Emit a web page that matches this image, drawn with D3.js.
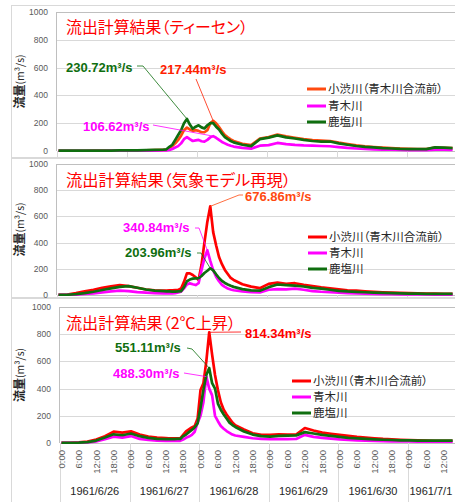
<!DOCTYPE html>
<html>
<head>
<meta charset="utf-8">
<script src="https://cdn.jsdelivr.net/npm/d3@7"></script>
<style>
  body { margin: 0; background: #fff; }
  svg { display: block; }
  .jp { font-family: "Noto Sans CJK JP", sans-serif; font-feature-settings: "palt"; }
  .num { font-family: "Liberation Sans", Arial, sans-serif; }
</style>
</head>
<body>
<svg id="chart" width="455" height="502"></svg>
<script>
// hours since 1961/6/26 0:00 (3-hourly, hourly around the peak)
const hours = [0,3,6,9,12,15,18,21,24,27,30,33,36,
  37,38,39,40,41,42,43,44,45,46,47,48,49,50,51,52,53,54,55,56,57,58,59,60,
  63,66,69,72,75,78,81,84,87,90,93,96,99,102,105,108,111,114,117,120,123,126,129,132,135];

const seriesNames = ["小渋川（青木川合流前）", "青木川", "鹿塩川"];
const titles = ["流出計算結果（ティーセン）", "流出計算結果（気象モデル再現）", "流出計算結果（2℃上昇）"];
const dayLabels = ["1961/6/26", "1961/6/27", "1961/6/28", "1961/6/29", "1961/6/30", "1961/7/1"];
const yTicks = [0, 200, 400, 600, 800, 1000];

// ティーセン
const thiessenKoshibu = [1,1,1,1,2,2,2,3,3,4,5,6,8,
  8,20,35,55,80,110,150,168,155,145,150,145,135,135,150,200,217,200,172,142,115,98,84,72,
  52,42,90,100,118,105,95,85,78,75,72,60,50,40,33,28,24,20,17,15,14,14,25,23,20];
const thiessenAoki = [1,1,1,1,1,1,2,2,2,2,3,3,4,
  4,8,15,25,35,55,85,100,85,72,76,80,70,68,80,98,107,95,80,65,55,45,38,32,
  22,17,38,42,58,50,44,40,38,36,34,28,22,18,15,12,10,9,8,7,7,6,10,9,8];
const thiessenKashio = [2,2,2,2,3,3,3,4,4,5,6,8,10,
  12,30,45,80,115,150,200,231,190,160,175,185,170,162,185,200,200,175,155,125,100,85,72,62,
  45,35,85,96,112,98,90,80,72,68,68,55,45,36,30,26,21,18,15,14,13,13,26,24,21];
const thiessenPeaks = ["217.44", "106.62", "230.72"];

// 気象モデル再現
const modelKoshibu = [2,4,14,28,40,55,66,75,68,55,42,36,33,
  34,35,36,37,38,50,100,165,165,153,135,115,230,400,560,677,480,380,290,235,191,160,130,115,
  82,64,52,85,95,85,90,78,68,58,50,43,36,33,28,24,21,19,17,14,12,11,10,9,8];
const modelAoki = [1,1,3,8,13,20,27,33,30,22,18,14,13,
  13,13,13,14,20,25,50,80,89,82,76,90,190,280,341,260,190,140,105,78,62,50,42,36,
  28,22,20,40,45,43,48,40,30,25,22,18,14,12,10,8,7,6,5,5,4,4,3,3,3];
const modelKashio = [2,2,6,14,25,38,51,62,68,55,42,34,30,
  28,27,26,26,28,30,60,105,118,125,127,128,145,168,185,204,188,158,130,108,92,80,70,62,
  45,35,33,60,80,76,72,65,55,48,40,32,27,24,21,18,16,14,12,11,10,9,8,8,8];
const modelPeaks = ["676.86", "340.84", "203.96"];

// 2℃上昇
const warmKoshibu = [2,2,4,10,25,50,83,76,86,62,48,39,36,
  35,35,34,34,34,60,85,100,115,125,180,390,440,600,814,650,500,390,300,245,210,180,150,130,
  100,72,60,60,64,62,62,110,92,76,68,60,52,45,40,35,30,27,24,21,19,17,16,15,15];
const warmAoki = [1,1,2,4,12,28,47,40,51,30,22,18,16,
  15,15,15,15,16,25,38,47,60,83,150,200,300,488,400,350,200,160,125,105,88,75,62,55,
  45,35,30,29,29,29,30,60,45,38,32,26,22,20,17,15,13,12,11,11,10,10,10,10,10];
const warmKashio = [2,2,3,6,18,40,64,57,70,50,38,30,29,
  29,29,29,30,30,50,62,80,96,115,145,260,390,500,551,440,400,290,245,210,180,150,132,118,
  85,62,50,47,52,54,56,80,70,60,52,45,38,34,30,27,24,22,20,19,18,17,17,17,17];
const warmPeaks = ["814.34", "488.30", "551.11"];

const RED = "#ff0000", ORANGE = "#ff4a10", MAGENTA = "#ff00ff", GREEN = "#0f6e0f";

const panels = [
  { title: titles[0], titleWidth: 182, series: [thiessenKoshibu, thiessenAoki, thiessenKashio], peaks: thiessenPeaks,
    colors: [ORANGE, MAGENTA, GREEN], noteColors: ["#ff2000", MAGENTA, GREEN],
    frame: [5, 157], plotLeft: 57, top: 12, bottom: 151, titleY: 33,
    legendX: 307, legendY: [89, 106, 122], legendSize: 11.5, axis: false,
    notes: [
      { x: 160, y: 74, lead: [[196, 79]] },
      { x: 83, y: 131, lead: [[153, 125]] },
      { x: 66, y: 72, lead: [[137, 66], [143, 66]] }
    ] },
  { title: titles[1], titleWidth: 225, series: [modelKoshibu, modelAoki, modelKashio], peaks: modelPeaks,
    colors: [RED, MAGENTA, GREEN], noteColors: [ORANGE, MAGENTA, GREEN],
    frame: [158, 297], plotLeft: 57, top: 164, bottom: 295, titleY: 186,
    legendX: 308, legendY: [237, 253, 269], legendSize: 11.5, axis: false,
    notes: [
      { x: 245, y: 201, lead: [[243, 195], [239, 195]] },
      { x: 123, y: 232, lead: [[195, 228], [199, 228]] },
      { x: 125, y: 257, lead: [[197, 253], [201, 253]] }
    ] },
  { title: titles[2], titleWidth: 170, series: [warmKoshibu, warmAoki, warmKashio], peaks: warmPeaks,
    colors: [RED, MAGENTA, GREEN], noteColors: [RED, MAGENTA, GREEN],
    frame: [298, 520], plotLeft: 60, top: 307, bottom: 443, titleY: 329,
    legendX: 292, legendY: [381, 397, 413], legendSize: 11.5, axis: true,
    notes: [
      { x: 245, y: 338, lead: [[241, 332]] },
      { x: 113, y: 378, lead: [[184, 373]] },
      { x: 115, y: 352, lead: [[187, 348], [192, 349]] }
    ] }
];

const svg = d3.select("#chart");

panels.forEach(p => {
  const x = d3.scaleLinear().domain([-0.5, 136]).range([p.plotLeft, 455.5]);
  const y = d3.scaleLinear().domain([0, 1000]).range([p.bottom, p.top]);
  const g = svg.append("g");

  // chart area frame
  g.append("rect")
    .attr("x", 11.5).attr("y", p.frame[0] + 0.5)
    .attr("width", 460).attr("height", p.frame[1] - p.frame[0])
    .attr("fill", "#fff").attr("stroke", "#d9d9d9");

  // gridlines
  g.append("g").selectAll("line")
    .data(yTicks)
    .join("line")
      .attr("x1", p.plotLeft).attr("x2", 456)
      .attr("y1", d => Math.round(y(d)) + 0.5).attr("y2", d => Math.round(y(d)) + 0.5)
      .attr("stroke", d => d === 1000 || d === 0 ? "#bfbfbf" : "#d9d9d9");
  g.append("line")
    .attr("x1", p.plotLeft - 0.5).attr("x2", p.plotLeft - 0.5)
    .attr("y1", p.top).attr("y2", p.bottom)
    .attr("stroke", "#bfbfbf");

  // day separators below the axis
  g.append("g").selectAll("line")
    .data(dayLabels)
    .join("line")
      .attr("x1", (d, i) => Math.round(x(i * 24 - 0.5)) + 0.5)
      .attr("x2", (d, i) => Math.round(x(i * 24 - 0.5)) + 0.5)
      .attr("y1", p.bottom).attr("y2", p.frame[1])
      .attr("stroke", "#d9d9d9");

  // y tick labels
  g.append("g")
      .attr("class", "num")
      .attr("font-size", 8.5)
      .attr("fill", "#595959")
      .attr("text-anchor", "end")
    .selectAll("text")
    .data(yTicks)
    .join("text")
      .attr("x", p.plotLeft - 9)
      .attr("y", d => y(d))
      .attr("dy", "0.35em")
      .text(d => d);

  // y axis title
  const yt = g.append("text")
    .attr("class", "jp")
    .attr("transform", `translate(24,${(p.top + p.bottom) / 2})rotate(-90)`)
    .attr("text-anchor", "middle")
    .attr("fill", "#262626");
  yt.append("tspan").attr("font-size", 12).attr("font-weight", 600).text("流量");
  yt.append("tspan").attr("font-size", 10.5).text("(m³/s)");

  // title
  g.append("text")
    .attr("class", "jp")
    .attr("x", 66).attr("y", p.titleY)
    .attr("font-size", 15.5)
    .attr("textLength", p.titleWidth)
    .attr("lengthAdjust", "spacingAndGlyphs")
    .attr("fill", "#ff0000")
    .text(p.title);

  // lines
  const line = d3.line()
    .x((d, i) => x(hours[i]))
    .y(d => y(d));
  const clipId = "clip" + p.top;
  g.append("clipPath").attr("id", clipId)
    .append("rect").attr("x", p.plotLeft).attr("y", p.top - 5)
    .attr("width", 460).attr("height", p.bottom - p.top + 6);
  g.append("g")
      .attr("clip-path", `url(#${clipId})`)
      .attr("fill", "none")
      .attr("stroke-width", 2.7)
      .attr("stroke-linejoin", "round")
    .selectAll("path")
    .data(p.series)
    .join("path")
      .attr("stroke", (d, i) => p.colors[i])
      .attr("d", line);

  // peak annotations
  p.notes.forEach((n, i) => {
    const vals = p.series[i];
    const k = d3.maxIndex(vals);
    const pts = n.lead.concat([[x(hours[k]), y(vals[k])]]);
    g.append("path")
      .attr("d", d3.line()(pts))
      .attr("fill", "none")
      .attr("stroke", p.noteColors[i])
      .attr("stroke-width", 0.8);
    g.append("text")
      .attr("class", "num")
      .attr("x", n.x).attr("y", n.y)
      .attr("font-size", 13)
      .attr("font-weight", "bold")
      .attr("fill", p.noteColors[i])
      .text(p.peaks[i] + "m³/s");
  });

  // legend
  const lg = g.append("g").attr("class", "jp");
  seriesNames.forEach((name, i) => {
    lg.append("line")
      .attr("x1", p.legendX).attr("x2", p.legendX + 19)
      .attr("y1", p.legendY[i]).attr("y2", p.legendY[i])
      .attr("stroke", p.colors[i]).attr("stroke-width", 3);
    lg.append("text")
      .attr("x", p.legendX + 21).attr("y", p.legendY[i])
      .attr("dy", "0.36em")
      .attr("font-size", p.legendSize)
      .attr("fill", "#262626")
      .text(name);
  });

  // category axis labels (bottom chart only)
  if (p.axis) {
    const ticks = d3.range(0, 133, 6);
    g.append("g")
        .attr("class", "num")
        .attr("font-size", 9.5)
        .attr("fill", "#595959")
        .attr("text-anchor", "end")
      .selectAll("text")
      .data(ticks)
      .join("text")
        .attr("transform", d => `translate(${x(d) + 3.3},${p.bottom + 7})rotate(-90)`)
        .text(d => `${d % 24}:00`);
    const lastHour = hours[hours.length - 1];
    g.append("g")
        .attr("class", "num")
        .attr("font-size", 11)
        .attr("fill", "#262626")
        .attr("text-anchor", "middle")
      .selectAll("text")
      .data(dayLabels)
      .join("text")
        .attr("x", (d, i) => x((i * 24 + Math.min(i * 24 + 23, lastHour)) / 2))
        .attr("y", 495)
        .text(d => d);
  }
});
</script>
</body>
</html>
